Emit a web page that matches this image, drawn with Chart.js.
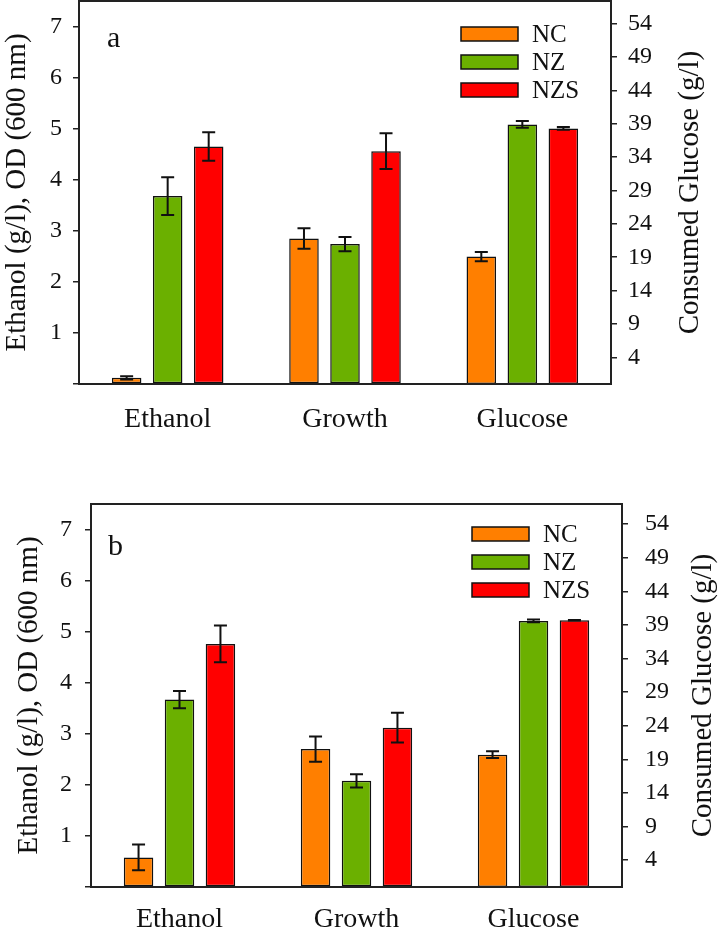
<!DOCTYPE html>
<html>
<head>
<meta charset="utf-8">
<script src="https://cdn.jsdelivr.net/npm/chart.js@4.4.1/dist/chart.umd.min.js"></script>
<style>
  body { margin: 0; background: #fff; }
  canvas { position: absolute; left: 0; }
</style>
</head>
<body>
<canvas id="chartA" width="720" height="466" style="top:0px"></canvas>
<canvas id="chartB" width="720" height="467" style="top:470px"></canvas>
<script>
// categories and series
const categories = ['Ethanol', 'Growth', 'Glucose'];
const seriesNames = ['NC', 'NZ', 'NZS'];
const seriesColors = ['#FF7F00', '#6BB000', '#FF0000'];

// panel a -- Ethanol (g/l), OD600 on the left axis, consumed glucose (g/l) on the right axis
const ncA = [0.12, 2.85, 19.1];
const nzA = [3.68, 2.74, 38.9];
const nzsA = [4.65, 4.56, 38.3];
const ncErrA = [0.03, 0.20, 0.7];
const nzErrA = [0.37, 0.14, 0.5];
const nzsErrA = [0.28, 0.35, 0.2];

// panel b
const ncB = [0.58, 2.70, 19.7];
const nzB = [3.67, 2.08, 39.6];
const nzsB = [4.76, 3.12, 39.7];
const ncErrB = [0.25, 0.245, 0.5];
const nzErrB = [0.17, 0.13, 0.2];
const nzsErrB = [0.36, 0.29, 0.05];

// tick labels
const leftTicks = [0, 1, 2, 3, 4, 5, 6, 7];
const rightTicks = [4, 9, 14, 19, 24, 29, 34, 39, 44, 49, 54];

const leftTitle = 'Ethanol (g/l), OD (600 nm)';
const rightTitle = 'Consumed Glucose (g/l)';

const FONT = "'Liberation Serif', 'Times New Roman', serif";
const INK = '#111';
Chart.defaults.font.family = FONT;
Chart.defaults.color = INK;

// left axis gets everything but the last category, right axis only the glucose one
function buildDatasets(values, errors) {
  const ds = [];
  values.forEach((vals, i) => {
    ds.push({
      label: seriesNames[i],
      data: vals.map((v, j) => (j < categories.length - 1 ? v : null)),
      errors: errors[i],
      yAxisID: 'y',
      backgroundColor: seriesColors[i],
      borderColor: '#111',
      borderWidth: 1.5,
      borderSkipped: false,
      skipNull: true,
      categoryPercentage: 0.694,
      barPercentage: 0.72
    });
  });
  values.forEach((vals, i) => {
    ds.push({
      label: seriesNames[i] + ' glucose',
      data: vals.map((v, j) => (j === categories.length - 1 ? v : null)),
      errors: errors[i],
      yAxisID: 'y2',
      backgroundColor: seriesColors[i],
      borderColor: '#111',
      borderWidth: 1.5,
      borderSkipped: false,
      skipNull: true,
      categoryPercentage: 0.694,
      barPercentage: 0.72
    });
  });
  return ds;
}

const errorBars = {
  id: 'errorBars',
  afterDatasetsDraw(chart) {
    const ctx = chart.ctx;
    ctx.save();
    ctx.strokeStyle = '#111';
    ctx.lineWidth = 2;
    chart.data.datasets.forEach((ds, di) => {
      const meta = chart.getDatasetMeta(di);
      const scale = chart.scales[ds.yAxisID];
      ds.data.forEach((v, j) => {
        if (v === null) return;
        const bar = meta.data[j];
        const e = ds.errors[j];
        const yT = scale.getPixelForValue(v + e);
        const yB = scale.getPixelForValue(Math.max(v - e, 0));
        const x = bar.x;
        const cap = 6.5;
        ctx.beginPath();
        ctx.moveTo(x, yT); ctx.lineTo(x, yB);
        ctx.moveTo(x - cap, yT); ctx.lineTo(x + cap, yT);
        ctx.moveTo(x - cap, yB); ctx.lineTo(x + cap, yB);
        ctx.stroke();
      });
    });
    ctx.restore();
  }
};

// frame around plot, legend, panel letter and right-hand title (reads bottom to top)
const frame = {
  id: 'frame',
  afterDraw(chart, args, opts) {
    const ctx = chart.ctx;
    const a = chart.chartArea;
    ctx.save();
    ctx.strokeStyle = '#222';
    ctx.lineWidth = 2;
    ctx.strokeRect(a.left, a.top, a.right - a.left, a.bottom - a.top);

    ctx.fillStyle = INK;
    ctx.font = '30px ' + FONT;
    ctx.textBaseline = 'alphabetic';
    ctx.fillText(opts.letter, opts.letterX, opts.letterY);

    ctx.font = '25px ' + FONT;
    ctx.textBaseline = 'middle';
    seriesNames.forEach((name, i) => {
      const bx = a.right - 150;
      const cy = a.top + opts.legendTop + i * 28;
      ctx.fillStyle = seriesColors[i];
      ctx.fillRect(bx, cy - 7, 57, 14);
      ctx.lineWidth = 1.5;
      ctx.strokeStyle = '#111';
      ctx.strokeRect(bx, cy - 7, 57, 14);
      ctx.fillStyle = INK;
      ctx.fillText(name, bx + 71, cy + 1);
    });

    ctx.translate(opts.rTitleX, (a.top + a.bottom) / 2);
    ctx.rotate(-Math.PI / 2);
    ctx.font = '29px ' + FONT;
    ctx.textAlign = 'center';
    ctx.textBaseline = 'middle';
    ctx.fillStyle = INK;
    ctx.fillText(rightTitle, 0, 0);
    ctx.restore();
  }
};

function makePanel(id, values, errors, L) {
  return new Chart(document.getElementById(id), {
    type: 'bar',
    data: { labels: categories, datasets: buildDatasets(values, errors) },
    options: {
      responsive: false,
      animation: false,
      devicePixelRatio: 1,
      layout: { padding: { top: L.top, left: 0, right: 0, bottom: 0 } },
      plugins: {
        legend: { display: false },
        tooltip: { enabled: false },
        frame: { letter: L.letter, letterX: L.letterX, letterY: L.letterY, legendTop: L.legendTop, rTitleX: L.rTitleX }
      },
      scales: {
        x: {
          grid: { display: false, drawTicks: false },
          border: { display: false },
          ticks: { font: { size: 28 }, padding: L.xPad, color: INK },
          afterFit(s) { s.height = L.xHeight; s.paddingLeft = 0; s.paddingRight = 0; }
        },
        y: {
          position: 'left',
          min: 0, max: 7.5,
          grid: { drawOnChartArea: false, tickLength: 6, color: '#222', lineWidth: 1.5 },
          border: { display: false },
          ticks: {
            font: { size: 24 }, padding: L.yPad, color: INK,
            callback: (v) => (v === 0 ? '' : v)
          },
          afterBuildTicks(s) { s.ticks = leftTicks.map(v => ({ value: v })); },
          title: { display: true, text: leftTitle, font: { size: 29 }, padding: { top: L.lTitlePad, bottom: 0 }, color: INK },
          afterFit(s) { s.width = L.left; s.paddingTop = 0; s.paddingBottom = 0; }
        },
        y2: {
          position: 'right',
          min: 0, max: L.rMax,
          grid: { drawOnChartArea: false, tickLength: 6, color: '#222', lineWidth: 1.5 },
          border: { display: false },
          ticks: { font: { size: 24 }, padding: L.y2Pad, color: INK },
          afterBuildTicks(s) { s.ticks = rightTicks.map(v => ({ value: v })); },
          afterFit(s) { s.width = 720 - L.right; s.paddingTop = 0; s.paddingBottom = 0; }
        }
      }
    },
    plugins: [errorBars, frame]
  });
}

makePanel('chartA', [ncA, nzA, nzsA], [ncErrA, nzErrA, nzsErrA], {
  top: 1, left: 79, right: 611, xHeight: 82, xPad: 19,
  yPad: 11, y2Pad: 11, lTitlePad: 0, rTitleX: 690, rMax: 57.4,
  letter: 'a', letterX: 107, letterY: 47, legendTop: 33
});

makePanel('chartB', [ncB, nzB, nzsB], [ncErrB, nzErrB, nzsErrB], {
  top: 34, left: 91, right: 622, xHeight: 50, xPad: 16,
  yPad: 13, y2Pad: 17, lTitlePad: 12, rTitleX: 703, rMax: 57.0,
  letter: 'b', letterX: 108, letterY: 85, legendTop: 30
});
</script>
</body>
</html>
